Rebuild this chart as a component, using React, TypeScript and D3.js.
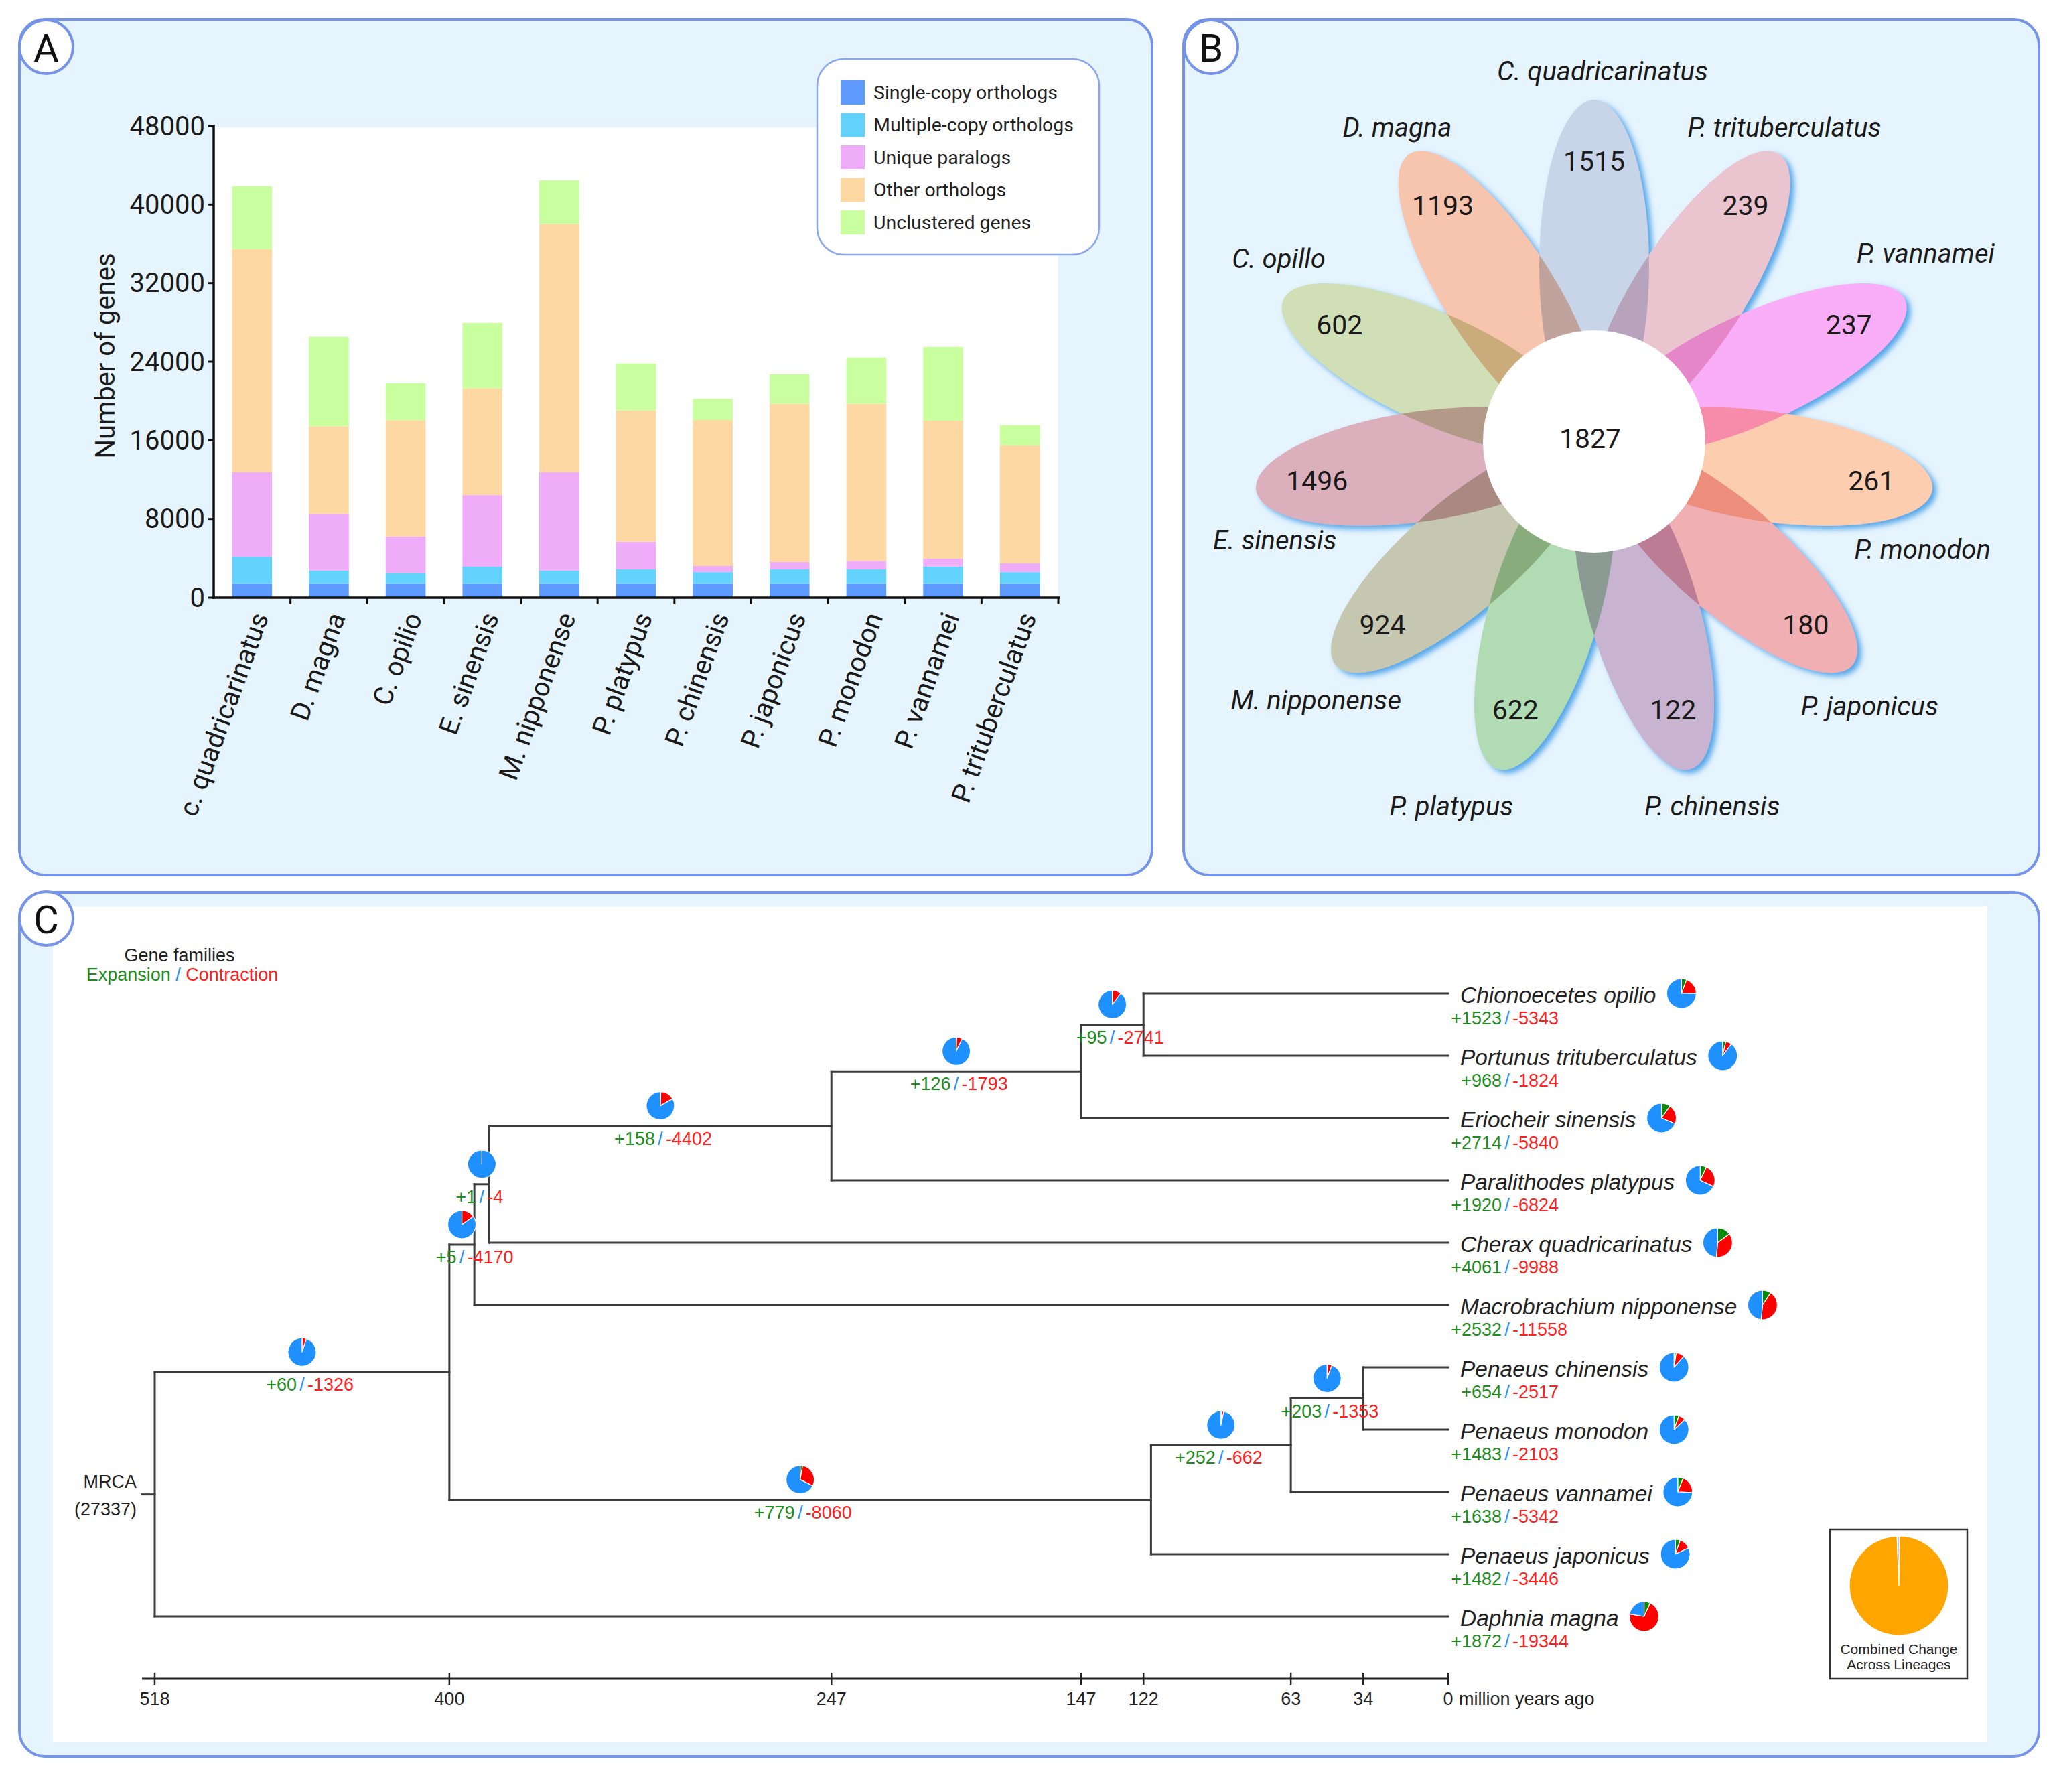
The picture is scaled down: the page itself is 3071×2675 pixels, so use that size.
import React from 'react';
import * as d3 from 'd3';

const W = 3071;
const H = 2675;

// ---------------- Panel A data ----------------
const barSpecies = ["c. quadricarinatus", "D. magna", "C. opilio", "E. sinensis", "M. nipponense", "P. platypus", "P. chinensis", "P. japonicus", "P. monodon", "P. vannamei", "P. trituberculatus"];
const singleCopy = [1400, 1400, 1400, 1400, 1400, 1400, 1400, 1400, 1400, 1400, 1400];
const multiCopy = [2740, 1340, 1070, 1740, 1340, 1470, 1180, 1470, 1470, 1750, 1180];
const uniqueParalogs = [8620, 5740, 3740, 7280, 10020, 2810, 630, 740, 860, 810, 920];
const otherOrthologs = [22710, 8950, 11830, 10890, 25250, 13360, 14860, 16120, 16000, 14050, 11990];
const unclustered = [6410, 9120, 3800, 6650, 4470, 4760, 2170, 2980, 4700, 7510, 2060];
const categoryNames = ["Single-copy orthologs", "Multiple-copy orthologs", "Unique paralogs", "Other orthologs", "Unclustered genes"];
const categoryColors = ["#5f9bff", "#63d3fe", "#efacf9", "#fdd8a3", "#caffa0"];
const yTicksA = [0, 8000, 16000, 24000, 32000, 40000, 48000];

// ---------------- Panel B data ----------------
const vennSpecies = ["C. quadricarinatus", "P. trituberculatus", "P. vannamei", "P. monodon", "P. japonicus", "P. chinensis", "P. platypus", "M. nipponense", "E. sinensis", "C. opillo", "D. magna"];
const vennUnique = [1515, 239, 237, 261, 180, 122, 622, 924, 1496, 602, 1193];
const vennCore = 1827;
const petalColors = ["#c8d4e8", "#eac4cf", "#faaef8", "#fccdaf", "#f0afb3", "#c8b3d1", "#b1dcb3", "#c6c7b1", "#dcafbd", "#d0dfb6", "#f7c4ad"];
// label placement tweaks (degrees offset from petal axis, radius)
const vennLabelAngleOffset = [1.3, -1.5, -5, 10, 3, -1.6, 5, -2, -9, 5.5, 0.6];
const vennLabelRadius = [553, 548, 569, 516, 571, 572, 585, 567, 499, 544, 553];

// ---------------- Panel C data ----------------
const leafNames = ["Chionoecetes opilio", "Portunus trituberculatus", "Eriocheir sinensis", "Paralithodes platypus", "Cherax quadricarinatus", "Macrobrachium nipponense", "Penaeus chinensis", "Penaeus monodon", "Penaeus vannamei", "Penaeus japonicus", "Daphnia magna"];
const leafGain = [1523, 968, 2714, 1920, 4061, 2532, 654, 1483, 1638, 1482, 1872];
const leafLoss = [5343, 1824, 5840, 6824, 9988, 11558, 2517, 2103, 5342, 3446, 19344];
const nodeIds = ["A", "B", "C", "D", "E", "F", "G", "H", "I", "root"];
const nodeAges = [122, 147, 247, 384, 390, 400, 34, 63, 119, 518];
const nodeChildren = [
  ["Chionoecetes opilio", "Portunus trituberculatus"],
  ["A", "Eriocheir sinensis"],
  ["B", "Paralithodes platypus"],
  ["C", "Cherax quadricarinatus"],
  ["D", "Macrobrachium nipponense"],
  ["E", "I"],
  ["Penaeus chinensis", "Penaeus monodon"],
  ["G", "Penaeus vannamei"],
  ["H", "Penaeus japonicus"],
  ["F", "Daphnia magna"],
];
const nodeGain = [95, 126, 158, 1, 5, 60, 203, 252, 779, 0];
const nodeLoss = [2741, 1793, 4402, 4, 4170, 1326, 1353, 662, 8060, 0];
const timeTicks = [518, 400, 247, 147, 122, 63, 34, 0];
const totalFamilies = 27337;
const combinedChange = [0.994, 0.006];

// ---------------- helpers ----------------
const BORDER = "#7593e8";
const PANEL_BG = "#e6f4fe";
const GREEN = "#1e8c1e";
const RED = "#ff1f1f";
const SLASH = "#1e90ff";
const PIE_COLORS = ["#0a8a0a", "#ff0000", "#1e90ff"];

let _ctx: CanvasRenderingContext2D | null = null;
function textWidth(text: string, font: string) {
  if (!_ctx) _ctx = document.createElement('canvas').getContext('2d');
  if (!_ctx) return text.length * 18;
  _ctx.font = font;
  return _ctx.measureText(text).width;
}

function Letter({ cx, cy, t }: { cx: number; cy: number; t: string }) {
  return (
    <g>
      <circle cx={cx} cy={cy} r={40} fill="#fff" stroke={BORDER} strokeWidth={4} />
      <text x={cx} y={cy + 2} textAnchor="middle" dominantBaseline="central" fontFamily="Roboto" fontSize={58} fill="#111">{t}</text>
    </g>
  );
}

// ---------------- Panel A ----------------
function PanelA() {
  const x = d3.scaleBand<string>().domain(barSpecies).range([319, 1580]).paddingInner(0.48).paddingOuter(0.24);
  const y = d3.scaleLinear().domain([0, 48000]).range([892, 188]);
  const keys = ["single", "multi", "unique", "other", "uncl"];
  const rows = barSpecies.map((s, i) => ({ name: s, single: singleCopy[i], multi: multiCopy[i], unique: uniqueParalogs[i], other: otherOrthologs[i], uncl: unclustered[i] }));
  const series = d3.stack<any>().keys(keys)(rows);
  const step = x.step();
  return (
    <g fontFamily="Roboto">
      <rect x={29} y={29} width={1691} height={1277} rx={38} fill={PANEL_BG} stroke={BORDER} strokeWidth={4} />
      <rect x={319} y={190} width={1261} height={702} fill="#fff" />
      {series.map((s, si) => (
        <g key={si} fill={categoryColors[si]}>
          {s.map((d, i) => (
            <rect key={i} x={x(barSpecies[i])} y={y(d[1])} width={x.bandwidth()} height={y(d[0]) - y(d[1])} />
          ))}
        </g>
      ))}
      {/* y axis */}
      <line x1={319} x2={319} y1={y(48000) - 2} y2={y(0) + 2} stroke="#111" strokeWidth={3.5} />
      {yTicksA.map(t => (
        <g key={t}>
          <line x1={311} x2={319} y1={y(t)} y2={y(t)} stroke="#111" strokeWidth={3} />
          <text x={306} y={y(t)} textAnchor="end" dominantBaseline="central" fontSize={40} fill="#1a1a1a">{t}</text>
        </g>
      ))}
      <text transform={`translate(157,531) rotate(-90)`} textAnchor="middle" dominantBaseline="central" fontSize={40} fill="#1a1a1a">Number of genes</text>
      {/* x axis */}
      <line x1={317} x2={1582} y1={y(0)} y2={y(0)} stroke="#111" strokeWidth={3.5} />
      {d3.range(1, barSpecies.length + 1).map(k => (
        <line key={k} x1={319 + k * step} x2={319 + k * step} y1={y(0)} y2={y(0) + 10} stroke="#111" strokeWidth={3} />
      ))}
      {barSpecies.map(s => {
        const cx = (x(s) as number) + x.bandwidth() / 2 + 12;
        return (
          <text key={s} transform={`translate(${cx},${y(0) + 24}) rotate(-70)`} textAnchor="end" dy="0.35em" fontSize={40} fill="#1a1a1a">{s}</text>
        );
      })}
      {/* legend */}
      <rect x={1220} y={88} width={421} height={292} rx={40} fill="#fff" stroke="#8aa6ec" strokeWidth={2.5} />
      {categoryNames.map((n, i) => (
        <g key={n}>
          <rect x={1255} y={120 + i * 48.5} width={36} height={36} fill={categoryColors[i]} />
          <text x={1304} y={138 + i * 48.5} dominantBaseline="central" fontSize={28.5} fill="#222">{n}</text>
        </g>
      ))}
      <Letter cx={69} cy={70} t="A" />
    </g>
  );
}

// ---------------- Panel B ----------------
function PanelB() {
  const cx = 2380, cy = 659;
  const n = vennSpecies.length;
  const angle = d3.scaleLinear().domain([0, n]).range([0, 360]);
  const d = 262, a = 248, b = 82;
  const rad = (deg: number) => (deg * Math.PI) / 180;
  return (
    <g fontFamily="Roboto">
      <rect x={1767} y={29} width={1277} height={1277} rx={38} fill={PANEL_BG} stroke={BORDER} strokeWidth={4} />
      <defs>
        <filter id="petalShadow" x="-20%" y="-20%" width="140%" height="140%">
          <feDropShadow dx={6} dy={5} stdDeviation={4} floodColor="#3a98e4" floodOpacity={0.85} />
        </filter>
      </defs>
      <g filter="url(#petalShadow)">
        <g style={{ isolation: 'isolate' }}>
          {vennSpecies.map((s, i) => (
            <ellipse key={s} cx={0} cy={-d} rx={b} ry={a} fill={petalColors[i]}
              transform={`translate(${cx},${cy}) rotate(${angle(i)})`}
              style={{ mixBlendMode: 'multiply' }} />
          ))}
        </g>
      </g>
      <circle cx={cx} cy={cy} r={166} fill="#fff" />
      <text x={cx - 6} y={cy - 4} textAnchor="middle" dominantBaseline="central" fontSize={41} fill="#1a1a1a">{vennCore}</text>
      {vennSpecies.map((s, i) => {
        const th = rad(angle(i));
        const r = 418;
        return (
          <text key={s + 'n'} x={cx + r * Math.sin(th)} y={cy - r * Math.cos(th)} textAnchor="middle" dominantBaseline="central" fontSize={41} fill="#1a1a1a">{vennUnique[i]}</text>
        );
      })}
      {vennSpecies.map((s, i) => {
        const th = rad(angle(i) + vennLabelAngleOffset[i]);
        const r = vennLabelRadius[i];
        return (
          <text key={s + 'l'} x={cx + r * Math.sin(th)} y={cy - r * Math.cos(th)} textAnchor="middle" dominantBaseline="central" fontSize={40} fontStyle="italic" fill="#1a1a1a">{s}</text>
        );
      })}
      <Letter cx={1808} cy={70} t="B" />
    </g>
  );
}

// ---------------- Panel C ----------------
function Pie({ cx, cy, r, values, colors }: { cx: number; cy: number; r: number; values: number[]; colors: string[] }) {
  const arcs = d3.pie<number>().sort(null).value(v => v)(values);
  const arc = d3.arc<d3.PieArcDatum<number>>().innerRadius(0).outerRadius(r);
  return (
    <g transform={`translate(${cx},${cy})`}>
      {arcs.map((a, i) => (
        <path key={i} d={arc(a) || ''} fill={colors[i]} stroke="#fff" strokeWidth={1.2} strokeLinejoin="round" />
      ))}
    </g>
  );
}

function ChangeLabel({ x, y, gain, loss, size }: { x: number; y: number; gain: number; loss: number; size: number }) {
  return (
    <g fontSize={size} dominantBaseline="central">
      <text x={x - 8} y={y} textAnchor="end" fill={GREEN}>{`+${gain}`}</text>
      <text x={x} y={y} textAnchor="middle" fill={SLASH}>/</text>
      <text x={x + 8} y={y} textAnchor="start" fill={RED}>{`-${loss}`}</text>
    </g>
  );
}

function PanelC() {
  const xs = d3.scaleLinear().domain([518, 0]).range([231, 2162]);
  const yLeaf = d3.scaleLinear().domain([0, leafNames.length - 1]).range([1483, 2413]);
  const ageOf: Record<string, number> = {};
  const childrenOf: Record<string, string[]> = {};
  const parentOf: Record<string, string> = {};
  leafNames.forEach(l => { ageOf[l] = 0; });
  nodeIds.forEach((id, i) => {
    ageOf[id] = nodeAges[i];
    childrenOf[id] = nodeChildren[i];
    nodeChildren[i].forEach(c => { parentOf[c] = id; });
  });
  const yCache: Record<string, number> = {};
  const getY = (id: string): number => {
    if (yCache[id] !== undefined) return yCache[id];
    const li = leafNames.indexOf(id);
    const v = li >= 0 ? yLeaf(li) : d3.mean(childrenOf[id], c => getY(c)) as number;
    yCache[id] = v;
    return v;
  };
  const rootY = getY("root");
  const lineColor = "#3c3c3c";
  const x0 = xs(0);
  const axisY = 2506;
  const leafFont = "italic 33.5px 'Liberation Sans'";

  return (
    <g fontFamily="'Liberation Sans', Arial, sans-serif">
      <rect x={29} y={1332} width={3015} height={1290} rx={38} fill={PANEL_BG} stroke={BORDER} strokeWidth={4} />
      <rect x={79} y={1353} width={2888} height={1247} fill="#fff" />
      {/* tree */}
      <g stroke={lineColor} strokeWidth={3} strokeLinecap="square" fill="none">
        {nodeIds.map(id => {
          const ch = childrenOf[id];
          const xn = xs(ageOf[id]);
          const ys = ch.map(getY);
          return (
            <g key={id}>
              <line x1={xn} x2={xn} y1={d3.min(ys)} y2={d3.max(ys)} />
              {ch.map(c => (
                <line key={c} x1={xn} x2={xs(ageOf[c])} y1={getY(c)} y2={getY(c)} />
              ))}
            </g>
          );
        })}
        <line x1={xs(518) - 19} x2={xs(518)} y1={rootY} y2={rootY} />
      </g>
      {/* internal branch pies and labels */}
      {nodeIds.map((id, i) => {
        if (id === "root") return null;
        const p = parentOf[id];
        const mx = (xs(ageOf[p]) + xs(ageOf[id])) / 2;
        const yy = getY(id);
        const g = nodeGain[i], l = nodeLoss[i];
        return (
          <g key={id + 'lab'}>
            <Pie cx={mx} cy={yy - 30} r={21} values={[g, l, totalFamilies - g - l]} colors={PIE_COLORS} />
            <ChangeLabel x={mx} y={yy + 19} gain={g} loss={l} size={27} />
          </g>
        );
      })}
      {/* leaves */}
      {leafNames.map((name, i) => {
        const yy = yLeaf(i);
        const w = textWidth(name, leafFont);
        const g = leafGain[i], l = leafLoss[i];
        return (
          <g key={name}>
            <text x={x0 + 18} y={yy + 2} dominantBaseline="central" fontStyle="italic" fontSize={33.5} fill="#222">{name}</text>
            <Pie cx={x0 + 18 + w + 38} cy={yy} r={22} values={[g, l, totalFamilies - g - l]} colors={PIE_COLORS} />
            <ChangeLabel x={x0 + 88} y={yy + 37} gain={g} loss={l} size={27} />
          </g>
        );
      })}
      {/* MRCA */}
      <text x={204} y={2212} textAnchor="end" dominantBaseline="central" fontSize={27} fill="#222">MRCA</text>
      <text x={204} y={2253} textAnchor="end" dominantBaseline="central" fontSize={27} fill="#222">(27337)</text>
      {/* time axis */}
      <line x1={212} x2={x0} y1={axisY} y2={axisY} stroke="#222" strokeWidth={3} />
      {timeTicks.map(t => (
        <g key={t}>
          <line x1={xs(t)} x2={xs(t)} y1={axisY - 9} y2={axisY + 9} stroke="#222" strokeWidth={2.5} />
          <text x={xs(t)} y={axisY + 30} textAnchor="middle" dominantBaseline="central" fontSize={27} fill="#222">{t}</text>
        </g>
      ))}
      <text x={x0 + 16} y={axisY + 30} dominantBaseline="central" fontSize={27} fill="#222">million years ago</text>
      {/* legend text */}
      <text x={268} y={1426} textAnchor="middle" dominantBaseline="central" fontSize={27} fill="#222">Gene families</text>
      <text x={272} y={1455} textAnchor="middle" dominantBaseline="central" fontSize={27}>
        <tspan fill={GREEN}>Expansion</tspan><tspan fill={SLASH}> / </tspan><tspan fill={RED}>Contraction</tspan>
      </text>
      {/* combined change box */}
      <rect x={2732} y={2283} width={205} height={223} fill="#fff" stroke="#333" strokeWidth={2.5} />
      <Pie cx={2835} cy={2367} r={74} values={combinedChange} colors={["#ffa500", "#1e90ff"]} />
      <text x={2835} y={2461} textAnchor="middle" dominantBaseline="central" fontSize={21} fill="#222">Combined Change</text>
      <text x={2835} y={2484} textAnchor="middle" dominantBaseline="central" fontSize={21} fill="#222">Across Lineages</text>
      <Letter cx={69} cy={1371} t="C" />
    </g>
  );
}

export default function App() {
  return (
    <svg width={W} height={H} viewBox={`0 0 ${W} ${H}`} style={{ position: 'absolute', left: 0, top: 0, display: 'block' }}>
      <rect width={W} height={H} fill="#fff" />
      <PanelA />
      <PanelB />
      <PanelC />
    </svg>
  );
}
